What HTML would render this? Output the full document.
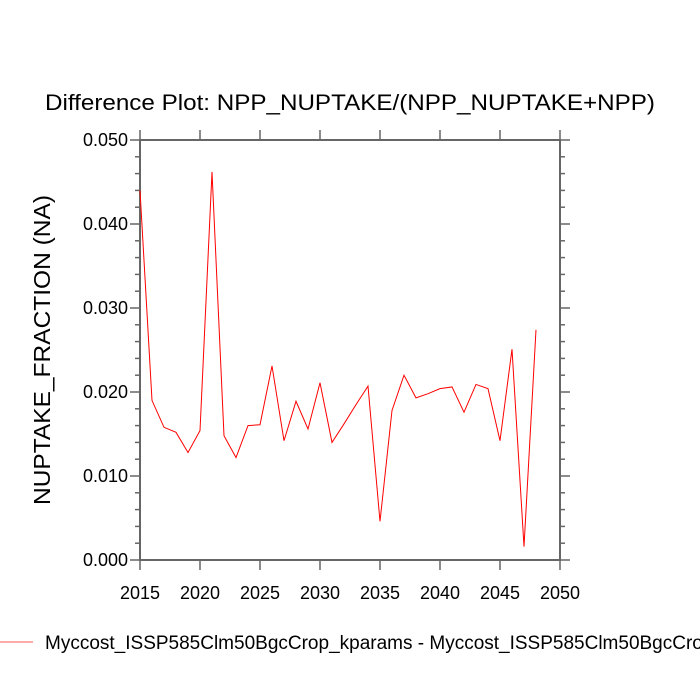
<!DOCTYPE html>
<html><head><style>body{margin:0;background:#fff;overflow:hidden}svg{display:block}</style></head><body>
<svg width="700" height="700" xmlns="http://www.w3.org/2000/svg" font-family="Liberation Sans, Arial, sans-serif">
<text x="45" y="110" font-size="22" textLength="610" lengthAdjust="spacingAndGlyphs">Difference Plot: NPP_NUPTAKE/(NPP_NUPTAKE+NPP)</text>
<g stroke="#666" stroke-width="2" fill="none">
<rect x="140" y="140" width="420" height="420"/>
</g>
<g id="ticks" stroke="#666" stroke-width="1.5"></g>
<g font-size="18" fill="#000">
<g text-anchor="end" id="yl"></g>
<g text-anchor="middle" id="xl"></g>
</g>
<text transform="translate(50,350) rotate(-90)" font-size="23" text-anchor="middle" textLength="310" lengthAdjust="spacingAndGlyphs">NUPTAKE_FRACTION  (NA)</text>
<polyline id="ln" fill="none" stroke="#f00" stroke-width="1"/>
<line x1="0" y1="642" x2="33" y2="642" stroke="#f55" stroke-width="1"/>
<text x="45" y="649" font-size="19">Myccost_ISSP585Clm50BgcCrop_kparams - Myccost_ISSP585Clm50BgcCrop</text>
</svg>
<script>
var NS="http://www.w3.org/2000/svg",tk=document.getElementById('ticks');
function L(a,b,c,d){var e=document.createElementNS(NS,'line');e.setAttribute('x1',a);e.setAttribute('y1',b);e.setAttribute('x2',c);e.setAttribute('y2',d);tk.appendChild(e);}
function T(g,x,y,s){var e=document.createElementNS(NS,'text');e.setAttribute('x',x);e.setAttribute('y',y);e.textContent=s;document.getElementById(g).appendChild(e);}
for(var i=0;i<=25;i++){var y=560-i*16.8,m=i%5==0?10:5;L(140-m,y,140,y);L(560,y,560+m,y);if(i%5==0)T('yl',128,y+6,(i*0.002).toFixed(3));}
for(var yr=2015;yr<=2050;yr+=5){var x=140+(yr-2015)*12;L(x,560,x,570);L(x,130,x,140);T('xl',x,599,yr);}
var d=[.044,.019,.0158,.0152,.0128,.0154,.0462,.0148,.0122,.016,.0161,.0231,.0142,.0189,.0156,.0211,.014,.0162,.0185,.0207,.0046,.0178,.022,.0193,.0198,.0204,.0206,.0176,.0209,.0204,.0142,.0251,.0016,.0274];
document.getElementById('ln').setAttribute('points',d.map(function(v,i){return (140+i*12)+','+(560-v*8400)}).join(' '));
</script>
</body></html>
